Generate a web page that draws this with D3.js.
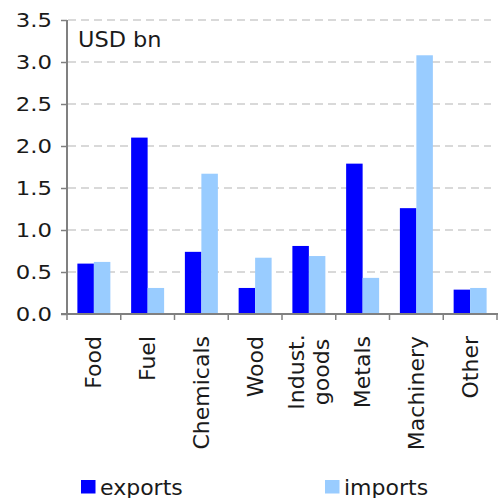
<!DOCTYPE html>
<html>
<head>
<meta charset="utf-8">
<script src="https://cdn.jsdelivr.net/npm/d3@7"></script>
<style>
  html, body { margin: 0; padding: 0; background: #fff; }
  svg { display: block; }
  text { font-family: "DejaVu Sans", Verdana, sans-serif; fill: #1a1a1a; }
</style>
</head>
<body>
<svg id="chart" width="501" height="498"></svg>
<script>
const categories = ["Food", "Fuel", "Chemicals", "Wood", "Indust.\ngoods", "Metals", "Machinery", "Other"];
const exportsVals = [0.60, 2.10, 0.74, 0.31, 0.81, 1.79, 1.26, 0.29];
const importsVals = [0.62, 0.31, 1.67, 0.67, 0.69, 0.43, 3.08, 0.31];
const seriesNames = ["exports", "imports"];
const yTicks = [0, 0.5, 1.0, 1.5, 2.0, 2.5, 3.0, 3.5];
const unitLabel = "USD bn";

const colors = { exports: "#0000ff", imports: "#99ccff" };
const svg = d3.select("#chart");

const x0 = d3.scaleBand().domain(categories).range([67, 497]).paddingInner(0).paddingOuter(0);
const x1 = d3.scaleBand().domain(seriesNames).range([0, x0.bandwidth()]).paddingInner(0).paddingOuter(0.63);
const y = d3.scaleLinear().domain([0, 3.5]).range([314, 20]);

// gridlines
svg.append("g").selectAll("line").data(yTicks.filter(d => d > 0)).join("line")
  .attr("x1", 68).attr("x2", 491)
  .attr("y1", d => y(d)).attr("y2", d => y(d))
  .attr("stroke", "#d9d9d9").attr("stroke-width", 2).attr("stroke-dasharray", "8,5");

// bars
const data = categories.map((c, i) => ({ cat: c, exports: exportsVals[i], imports: importsVals[i] }));
const groups = svg.append("g").selectAll("g").data(data).join("g")
  .attr("transform", d => `translate(${x0(d.cat)},0)`);
groups.selectAll("rect").data(d => seriesNames.map(s => ({ s, v: d[s] }))).join("rect")
  .attr("x", d => x1(d.s)).attr("width", x1.bandwidth())
  .attr("y", d => y(d.v)).attr("height", d => y(0) - y(d.v))
  .attr("fill", d => colors[d.s]);

// y axis
const yAxis = d3.axisLeft(y).tickValues(yTicks).tickFormat(d3.format(".1f")).tickSize(6).tickPadding(10);
const gy = svg.append("g").attr("transform", "translate(67,0)").call(yAxis);
gy.select(".domain").attr("stroke", "#808080").attr("stroke-width", 2).attr("d", `M0,${y(3.5)}V${y(0)}`);
gy.selectAll(".tick line").attr("stroke", "#808080").attr("stroke-width", 1.5);
gy.selectAll(".tick text")
  .attr("font-size", 19).attr("font-family", "DejaVu Sans").attr("fill", "#1a1a1a")
  .attr("x", 0).attr("dy", "0.36em")
  .attr("transform", "translate(-15,0) scale(1.2,1)");

// x axis
const xAxis = d3.axisBottom(x0).tickValues([]).tickSize(0);
const gx = svg.append("g").attr("transform", `translate(0,${y(0)})`).call(xAxis);
gx.select(".domain").attr("stroke", "#808080").attr("stroke-width", 2).attr("d", "M61,0H498");
const bounds = categories.map(c => x0(c)).concat([x0.range()[1]]);
gx.selectAll(".xt").data(bounds).join("line").attr("class", "xt")
  .attr("x1", d => d).attr("x2", d => d).attr("y1", 0).attr("y2", 6)
  .attr("stroke", "#808080").attr("stroke-width", 1.5);

// category labels (rotated)
const labelG = svg.append("g");
categories.forEach(c => {
  const lines = c.split("\n");
  const cx = x0(c) + x0.bandwidth() / 2;
  const lineH = 25;
  lines.forEach((ln, i) => {
    const off = (i - (lines.length - 1) / 2) * lineH;
    const t = labelG.append("text")
      .attr("font-size", 22)
      .attr("dominant-baseline", "central")
      .attr("transform", `translate(${cx + off},${lines.length > 1 ? 372 : 336}) rotate(-90)`)
      .attr("text-anchor", lines.length > 1 ? "middle" : "end")
      .text(ln);
  });
});

// unit label
svg.append("text").attr("x", 78).attr("y", 47.5).attr("font-size", 21).attr("transform", "translate(78,0) scale(1.07,1) translate(-78,0)").text(unitLabel);

// legend
const legend = [{ s: "exports", x: 81 }, { s: "imports", x: 325 }];
const lg = svg.append("g").selectAll("g").data(legend).join("g");
lg.append("rect").attr("x", d => d.x).attr("y", 480).attr("width", 14.5).attr("height", 13.5).attr("fill", d => colors[d.s]);
lg.append("text").attr("x", d => d.x + 19).attr("y", 494.5).attr("font-size", 22).text(d => d.s);
</script>
</body>
</html>
